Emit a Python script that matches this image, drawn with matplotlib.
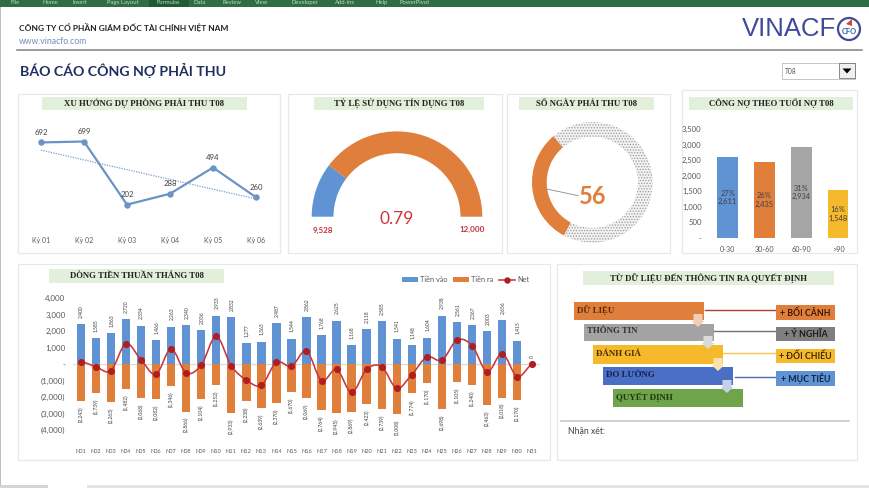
import matplotlib
matplotlib.use("Agg")
import matplotlib.pyplot as plt
import numpy as np
from matplotlib.patches import Rectangle, Polygon, Circle, PathPatch
from matplotlib.path import Path
from matplotlib.lines import Line2D

W, H = 870, 488
SERIF = "Liberation Serif"
SANS = "Lato"
plt.rcParams["font.family"] = [SANS, "DejaVu Sans"]
plt.rcParams["hatch.linewidth"] = 0.6

BLUE, ORANGE, GRAY, YELLOW = "#5F93D3", "#E07E3C", "#A5A5A5", "#F6B92B"
BAND = "#E2EFDA"
TXT = "#595959"

# ---- data
trend_labels = ["Kỳ 01", "Kỳ 02", "Kỳ 03", "Kỳ 04", "Kỳ 05", "Kỳ 06"]
trend_values = [692, 699, 202, 288, 494, 260]

credit_used = 9528
credit_limit = 12000

days_receivable = 56
days_period = 180

aging_labels = ["0-30", "30-60", "60-90", ">90"]
aging_values = [2611, 2435, 2934, 1548]

day_labels = [f"N{i:02d}" for i in range(1, 32)]
cash_in = [2400, 1585, 1863, 2720, 2334, 1466, 2263, 2340, 2036, 2933, 2832, 1277, 1363, 2487, 1544, 2862,
           1768, 2625, 1168, 2118, 2585, 1541, 1148, 1604, 2938, 2561, 2367, 2003, 2656, 1415, 0]
cash_out = [2243, 1739, 2263, 1482, 2068, 2082, 1346, 2866, 2104, 1252, 2933, 2238, 2639, 2370, 1670, 2069,
            2764, 2945, 2869, 2423, 2739, 3008, 1774, 1170, 2698, 1105, 1240, 2463, 2018, 2170, 0]

flow_steps = ["DỮ LIỆU", "THÔNG TIN", "ĐÁNH GIÁ", "ĐO LƯỜNG", "QUYẾT ĐỊNH"]
flow_tags = ["+ BỐI CẢNH", "+ Ý NGHĨA", "+ ĐỐI CHIẾU", "+ MỤC TIÊU"]
ribbon_tabs = ["File", "Home", "Insert", "Page Layout", "Formulas", "Data", "Review", "View", "Developer", "Add-ins", "Help", "PowerPivot"]
ribbon_x = [15, 50, 80, 123, 168, 200, 232, 262, 305, 345, 382, 415]

fig = plt.figure(figsize=(W / 100, H / 100), dpi=100, facecolor="white")


def px_axes(x0, y0, x1, y1, z=2):
    ax = fig.add_axes([x0 / W, 1 - y1 / H, (x1 - x0) / W, (y1 - y0) / H], zorder=z)
    ax.patch.set_alpha(0)
    return ax


bg = px_axes(0, 0, W, H, 0)
bg.set_xlim(0, W); bg.set_ylim(H, 0); bg.axis("off")
fg = px_axes(0, 0, W, H, 10)
fg.set_xlim(0, W); fg.set_ylim(H, 0); fg.axis("off")


def rect(ax, x0, y0, x1, y1, fc, ec="none", lw=0, z=1):
    ax.add_patch(Rectangle((x0, y0), x1 - x0, y1 - y0, fc=fc, ec=ec, lw=lw, zorder=z))


# ---- window chrome
rect(bg, 0, 0, W, 7, "#2F6E42")
rect(bg, 149, 0, 189, 7, "#1F5A32")
for t, x in zip(ribbon_tabs, ribbon_x):
    bg.text(x, 2.5, t, fontsize=4.2, color="#BFD8C6", ha="center", va="center", zorder=2)
rect(bg, 0, 7, 1.5, 485, "#BDBDBD")
rect(bg, 0, 485, 48, 488, "#D5D5D5")
rect(bg, 87, 485, 870, 488, "#E4E4E4")

# ---- header
bg.text(19, 27, "CÔNG TY CỔ PHẦN GIÁM ĐỐC TÀI CHÍNH VIỆT NAM", fontsize=6.0, fontweight="bold", color="#222222", va="center")
bg.text(19, 41, "www.vinacfo.com", fontsize=6.2, color="#6F8FBF", va="center")
bg.plot([17, 862], [50, 50], color="#808080", lw=1.1)
bg.text(20, 70.5, "BÁO CÁO CÔNG NỢ PHẢI THU", fontsize=10.2, fontweight="bold", color="#1F2F5F", va="center")
bg.text(742, 29, "VINACF", fontsize=18.5, color="#3F4A9A", va="center", family="Liberation Sans")
bg.add_patch(Circle((849, 29), 11, fc="white", ec="#3F4A9A", lw=1.6, zorder=3))
bg.text(849, 31, "CFO", fontsize=5.4, fontweight="bold", color="#2F5FA8", ha="center", va="center", zorder=4)
bg.add_patch(Polygon([[846, 24], [852, 19], [852, 26]], fc="#D04A3A", zorder=4))

# dropdown
rect(bg, 782, 63, 855, 79, "white", ec="#BBBBBB", lw=0.6)
rect(bg, 839, 63, 855, 78, "#F0F0F0", ec="#606060", lw=0.5, z=2)
bg.add_patch(Polygon([[842.5, 68.5], [851.5, 68.5], [847, 73.5]], fc="black", zorder=3))
bg.text(785, 71, "T08", fontsize=4.8, color="#555555", va="center", zorder=3)

# ---- panels and title bands
for x0, y0, x1, y1 in [(18, 94, 280, 253), (288, 94, 502, 253), (507, 94, 670, 253), (682, 90, 857, 253),
                       (18, 264, 550, 460), (557, 264, 857, 460)]:
    rect(bg, x0, y0, x1, y1, "white", ec="#E8E8E8", lw=0.9)

for x0, y0, x1, y1, t in [(42, 97, 247, 110, "XU HƯỚNG DỰ PHÒNG PHẢI THU T08"),
                          (314, 97, 484, 110, "TỶ LỆ SỬ DỤNG TÍN DỤNG T08"),
                          (519, 97, 654, 110, "SỐ NGÀY PHẢI THU T08"),
                          (689, 97, 853, 110, "CÔNG NỢ THEO TUỔI NỢ T08"),
                          (583, 271, 834, 285, "TỪ DỮ LIỆU ĐẾN THÔNG TIN RA QUYẾT ĐỊNH")]:
    rect(bg, x0, y0, x1, y1, BAND, z=2)
    bg.text((x0 + x1) / 2, (y0 + y1) / 2, t, fontsize=6.3, fontweight="bold", family=SERIF, color="#222222",
            ha="center", va="center", zorder=3)
rect(bg, 49, 269, 224, 283, BAND, z=2)
bg.text(70, 276, "DÒNG TIỀN THUẦN THÁNG T08", fontsize=6.3, fontweight="bold", family=SERIF, color="#222222",
        va="center", zorder=3)

# ---- trend line chart
ax = px_axes(19.5, 116, 277.5, 230.3)
x = np.arange(len(trend_values))
ax.plot(x, trend_values, color="#6C93C7", lw=1.6, marker="o", ms=3.6, solid_joinstyle="round")
fit = np.polyval(np.polyfit(x, trend_values, 1), x)
ax.plot(x, fit, color="#7FA0CC", lw=0.9, ls=(0, (1, 1)))
for i, v in zip(x, trend_values):
    ax.annotate(f"{v:,}", (i, v), xytext=(0, 7.2), textcoords="offset points", ha="center", va="center",
                fontsize=5.6, color="#404040")
ax.set_xlim(-0.5, 5.5); ax.set_ylim(0, 900)
ax.set_xticks(x, trend_labels, fontsize=5, color=TXT)
ax.set_yticks([])
ax.tick_params(length=0, pad=4.5)
for s in ax.spines.values():
    s.set_visible(False)

# ---- credit gauge
R = 85.3
ax = px_axes(397 - R, 216.7 - R, 397 + R, 216.7 + R)
wedges, _ = ax.pie([credit_limit - credit_used, credit_used, credit_limit], startangle=180, counterclock=False,
                   colors=[BLUE, ORANGE, "none"], radius=1, wedgeprops=dict(width=21.8 / R, lw=0))
ax.set_xlim(-1, 1); ax.set_ylim(-1, 1)
fg.text(397, 219, f"{credit_used / credit_limit:.2f}", fontsize=12.5, color="#D0353F", ha="center", va="center")
fg.text(323, 230, f"{credit_used:,}", fontsize=5.8, fontweight="bold", color="#C0303A", ha="center", va="center")
fg.text(472, 229, f"{credit_limit:,}", fontsize=5.8, fontweight="bold", color="#C0303A", ha="center", va="center")

# ---- days donut
R = 60.3
ax = px_axes(592.3 - R, 182.3 - R, 592.3 + R, 182.3 + R)
wedges, _ = ax.pie([days_receivable, days_period - days_receivable], startangle=130, colors=[ORANGE, "#F2F2F2"],
                   radius=1, wedgeprops=dict(width=14.7 / R, lw=0))
wedges[1].set_hatch("......")
wedges[1].set_edgecolor("#9A9A9A")
wedges[1].set_linewidth(0)
ax.set_xlim(-1, 1); ax.set_ylim(-1, 1)
fg.plot([546.7, 578.3], [189, 195.7], color="#8A8A8A", lw=0.6)
fg.text(593, 196.5, str(days_receivable), fontsize=17, fontweight="bold", color=ORANGE, ha="center", va="center")

# ---- aging bars
ax = px_axes(709.3, 129, 856.5, 238)
x = np.arange(len(aging_values))
ax.bar(x, aging_values, width=0.56, color=[BLUE, ORANGE, GRAY, YELLOW])
total = sum(aging_values)
for i, v in zip(x, aging_values):
    ax.text(i, v / 2, f"{v / total:.0%}\n{v:,}", ha="center", va="center", fontsize=5.4, color="#404040", linespacing=1.2)
ax.set_xlim(-0.5, 3.5); ax.set_ylim(0, 3500)
ax.set_xticks(x, aging_labels, fontsize=5.2, color=TXT)
yt = np.arange(0, 3501, 500)
ax.set_yticks(yt, ["-" if v == 0 else f"{v:,}" for v in yt], fontsize=5.6, color=TXT)
ax.tick_params(axis="x", length=0, pad=5.5)
ax.tick_params(axis="y", length=0, pad=5.5)
for s in ax.spines.values():
    s.set_visible(False)

# ---- cash flow
ax = px_axes(73.2, 298, 539.8, 430.3)
x = np.arange(len(day_labels))
net = np.array(cash_in) - np.array(cash_out)
b1 = ax.bar(x, cash_in, width=0.56, color=BLUE, label="Tiền vào", zorder=2)
b2 = ax.bar(x, -np.array(cash_out), width=0.56, color=ORANGE, label="Tiền ra", zorder=2)
ax.axhline(0, color="#D9D9D9", lw=0.8, zorder=1)
# smooth line like the spreadsheet's, through the net values
verts = [(x[0], net[0])]
codes = [Path.MOVETO]
for i in range(len(x) - 1):
    m0 = (net[i + 1] - net[max(i - 1, 0)]) / 6
    m1 = (net[min(i + 2, len(x) - 1)] - net[i]) / 6
    verts += [(x[i] + 1 / 3, net[i] + m0), (x[i + 1] - 1 / 3, net[i + 1] - m1), (x[i + 1], net[i + 1])]
    codes += [Path.CURVE4] * 3
ax.add_patch(PathPatch(Path(verts, codes), fc="none", ec="#C8383A", lw=1.15, zorder=3))
ax.plot(x, net, ls="none", marker="o", ms=4.1, color="#B01E22", zorder=4)
for i, (a, b) in enumerate(zip(cash_in, cash_out)):
    ax.annotate(f"{a:,}", (i, a), xytext=(0, 4.5), textcoords="offset points", rotation=90, ha="center", va="bottom",
                fontsize=3.6, color="#404040")
    if b:
        ax.annotate(f"({b:,})", (i, -b), xytext=(0, -4), textcoords="offset points", rotation=90, ha="center", va="top",
                    fontsize=3.6, color="#404040")
ax.set_xlim(-0.5, 30.5); ax.set_ylim(-4000, 4000)
ax.set_xticks(x, day_labels, fontsize=4.1, color=TXT)
yt = np.arange(-4000, 4001, 1000)
ax.set_yticks(yt, ["-" if v == 0 else (f"({-v:,})" if v < 0 else f"{v:,}") for v in yt], fontsize=5.7, color=TXT)
ax.tick_params(axis="x", length=0, pad=13.5)
ax.tick_params(axis="y", length=0, pad=5.5)
for s in ax.spines.values():
    s.set_visible(False)
line_handle = Line2D([], [], color="#C8383A", lw=1.15, marker="o", ms=3.6, mfc="#B01E22", mec="#B01E22", label="Net")
fig.legend(handles=[b1, b2, line_handle], loc="center left", bbox_to_anchor=(402 / W, 1 - 279.5 / H), ncol=3, frameon=False,
           fontsize=5.3, labelcolor=TXT, handlelength=2.2, handleheight=0.6, handletextpad=0.25, columnspacing=0.75,
           borderpad=0, borderaxespad=0)

# ---- decision flow
steps_geom = [(574, 302, 704, 319.5, "#E07E3C", "#5A2A10"), (584, 323.5, 714, 341, "#A3A3A3", "#333333"),
              (593, 345, 723, 364, "#F6B92B", "#4A3000"), (603, 367, 733, 385, "#4A6FC4", "#14224F"),
              (613, 389, 743, 407, "#70A44A", "#1F3A10")]
for (x0, y0, x1, y1, c, tc), t in zip(steps_geom, flow_steps):
    rect(bg, x0, y0, x1, y1, c, z=2)
    bg.text(x0 + 3.5, (y0 + y1) / 2 - 1, t, fontsize=6.4, fontweight="bold", family=SERIF, color=tc, va="center", zorder=4)
for (x0, y0, x1, y1, c, _), (ax_, ay) in zip(steps_geom[:4], [(698, 314), (708, 336), (718, 358), (727, 380)]):
    tint = {"#E07E3C": "#F3CDB4", "#A3A3A3": "#DADADA", "#F6B92B": "#FAE2AC", "#4A6FC4": "#C5D0EA"}[c]
    bg.add_patch(Polygon([[ax_ - 4.5, ay], [ax_ + 4.5, ay], [ax_ + 4.5, ay + 7], [ax_ + 6.5, ay + 7], [ax_, ay + 13],
                          [ax_ - 6.5, ay + 7], [ax_ - 4.5, ay + 7]], fc=tint, ec="none", zorder=3))

tags_geom = [(305, 320, "#E07E3C", "#3A1A05", "#A8452E", 705, 310), (327, 341, "#7F7F7F", "#1A1A1A", "#6F6F7F", 714, 331),
             (349, 363, "#F6B92B", "#3A2A00", "#F6C95B", 723, 353), (371, 386, "#5F93D3", "#10203F", "#4A6FA5", 735, 377)]
for (y0, y1, c, tc, lc, lx, ly), t in zip(tags_geom, flow_tags):
    bg.plot([lx, 776], [ly, ly], color=lc, lw=1.0, zorder=2)
    rect(bg, 776, y0, 835, y1, c, z=3)
    bg.text(805.5, (y0 + y1) / 2 + 0.5, t, fontsize=6.3, fontweight="bold", color=tc, ha="center", va="center", zorder=4)
bg.plot([561, 849], [421, 421], color="#C8C8C8", lw=1.2, zorder=2)
bg.text(568, 431, "Nhận xét:", fontsize=6.2, color="#404040", va="center", zorder=2)

fig.savefig("out.png", dpi=100)
